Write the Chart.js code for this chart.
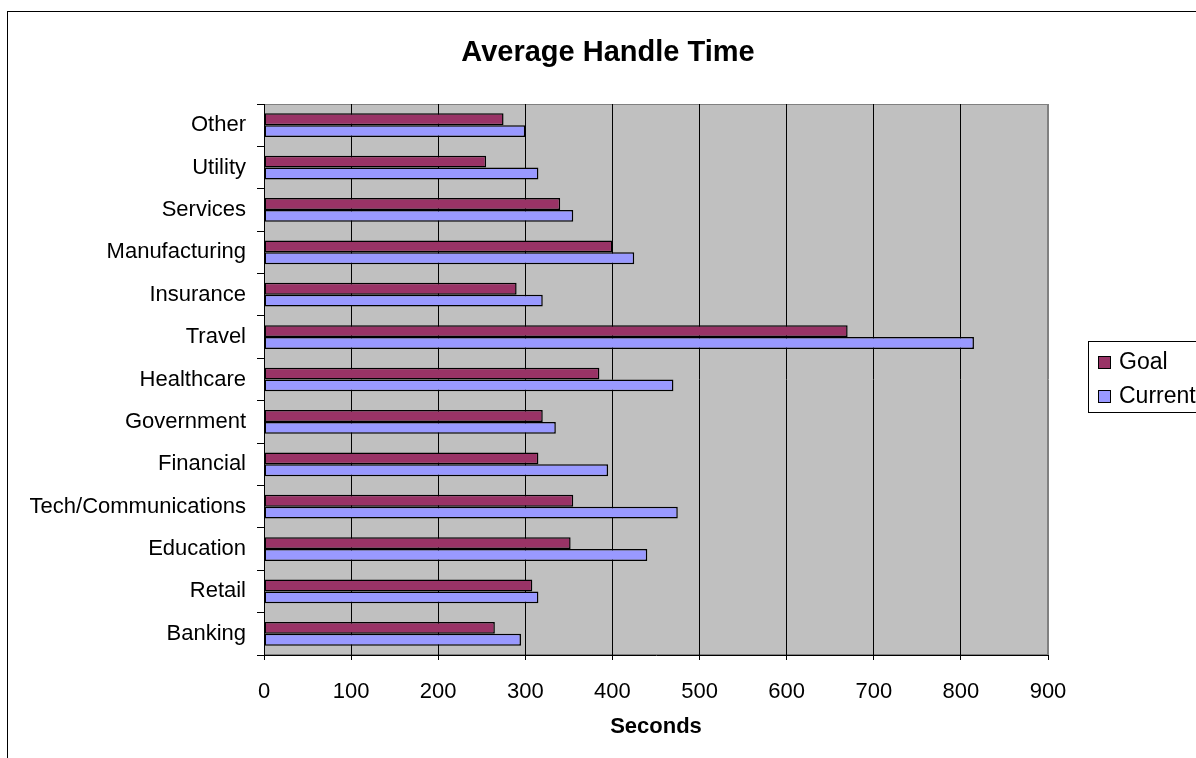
<!DOCTYPE html>
<html>
<head>
<meta charset="utf-8">
<title>Average Handle Time</title>
<script src="https://cdn.jsdelivr.net/npm/chart.js@4/dist/chart.umd.min.js"></script>
<style>
  html, body { margin: 0; padding: 0; background: #ffffff; }
  #wrap { width: 1196px; height: 758px; position: relative; }
</style>
</head>
<body>
<div id="wrap"><canvas id="c" width="1196" height="758"></canvas></div>
<script>
// Industries, listed top to bottom
const categories = ['Other', 'Utility', 'Services', 'Manufacturing', 'Insurance', 'Travel',
  'Healthcare', 'Government', 'Financial', 'Tech/Communications', 'Education', 'Retail', 'Banking'];
// Average handle time in seconds
const goalSeconds = [275, 255, 340, 400, 290, 670, 385, 320, 315, 355, 352, 308, 265];
const currentSeconds = [300, 315, 355, 425, 320, 815, 470, 335, 395, 475, 440, 315, 295];
const seriesNames = ['Goal', 'Current'];
const seriesColors = ['#993366', '#9999FF'];
const axisMin = 0, axisMax = 900, axisStep = 100;
const chartTitle = 'Average Handle Time';
const axisTitle = 'Seconds';

const FONT = '"Liberation Sans", Arial, Helvetica, sans-serif';

// Outer frame, plot background, heading and boxed legend
const decorations = {
  id: 'decorations',
  beforeDraw(chart) {
    const ctx = chart.ctx;
    const a = chart.chartArea;
    ctx.save();
    ctx.fillStyle = '#ffffff';
    ctx.fillRect(0, 0, chart.width, chart.height);
    ctx.strokeStyle = '#000000';
    ctx.lineWidth = 1;
    ctx.strokeRect(7.5, 11.5, 1400, 1000);
    ctx.fillStyle = '#C0C0C0';
    ctx.fillRect(a.left, a.top, a.right - a.left, a.bottom - a.top);
    ctx.strokeStyle = '#808080';
    ctx.strokeRect(a.left + 0.5, a.top + 0.5, a.right - a.left - 1, a.bottom - a.top - 1);
    ctx.restore();
  },
  afterDraw(chart) {
    const ctx = chart.ctx;
    ctx.save();
    ctx.fillStyle = '#000000';
    ctx.font = 'bold 29px ' + FONT;
    ctx.textAlign = 'center';
    ctx.textBaseline = 'middle';
    ctx.fillText(chartTitle, 608, 53);

    // legend
    ctx.strokeStyle = '#000000';
    ctx.lineWidth = 1;
    ctx.fillStyle = '#ffffff';
    ctx.fillRect(1088.5, 341.5, 200, 71);
    ctx.strokeRect(1088.5, 341.5, 200, 71);
    ctx.font = '23px ' + FONT;
    ctx.textAlign = 'left';
    const rows = [362, 396];
    seriesNames.forEach((name, i) => {
      const y = rows[i];
      ctx.fillStyle = seriesColors[i];
      ctx.fillRect(1098, y - 6, 13, 13);
      ctx.strokeRect(1098.5, y - 5.5, 12, 12);
      ctx.fillStyle = '#000000';
      ctx.fillText(name, 1119, y + 1);
    });
    ctx.restore();
  }
};

new Chart(document.getElementById('c'), {
  type: 'bar',
  data: {
    labels: categories,
    datasets: [
      {
        label: seriesNames[0],
        data: goalSeconds,
        backgroundColor: seriesColors[0],
        borderColor: '#000000',
        borderWidth: 1.5,
        borderSkipped: false,
        inflateAmount: 0,
        categoryPercentage: 0.56,
        barPercentage: 1.0
      },
      {
        label: seriesNames[1],
        data: currentSeconds,
        backgroundColor: seriesColors[1],
        borderColor: '#000000',
        borderWidth: 1.5,
        borderSkipped: false,
        inflateAmount: 0,
        categoryPercentage: 0.56,
        barPercentage: 1.0
      }
    ]
  },
  options: {
    indexAxis: 'y',
    responsive: false,
    animation: false,
    devicePixelRatio: 1,
    layout: { padding: { top: 104, right: 148, left: 0, bottom: 0 } },
    plugins: {
      legend: { display: false },
      title: { display: false },
      tooltip: { enabled: false }
    },
    scales: {
      x: {
        min: axisMin,
        max: axisMax,
        afterFit(scale) { scale.height = 103; },
        ticks: {
          stepSize: axisStep,
          color: '#000000',
          padding: 19,
          font: { family: FONT, size: 22 }
        },
        grid: {
          color: (c) => (c.index === 9 ? '#808080' : '#000000'),
          lineWidth: 1,
          tickLength: 5,
          tickColor: '#000000'
        },
        border: { display: true, color: '#000000' },
        title: {
          display: true,
          text: axisTitle,
          color: '#000000',
          font: { family: FONT, size: 22, weight: 'bold' },
          padding: { top: 0, bottom: 18 }
        }
      },
      y: {
        afterFit(scale) { scale.width = 264; },
        ticks: {
          color: '#000000',
          padding: 11,
          font: { family: FONT, size: 22 }
        },
        grid: {
          drawOnChartArea: false,
          drawTicks: true,
          tickLength: 7,
          tickColor: '#000000',
          offset: true
        },
        border: { display: true, color: '#000000' }
      }
    }
  },
  plugins: [decorations]
});
</script>
</body>
</html>
